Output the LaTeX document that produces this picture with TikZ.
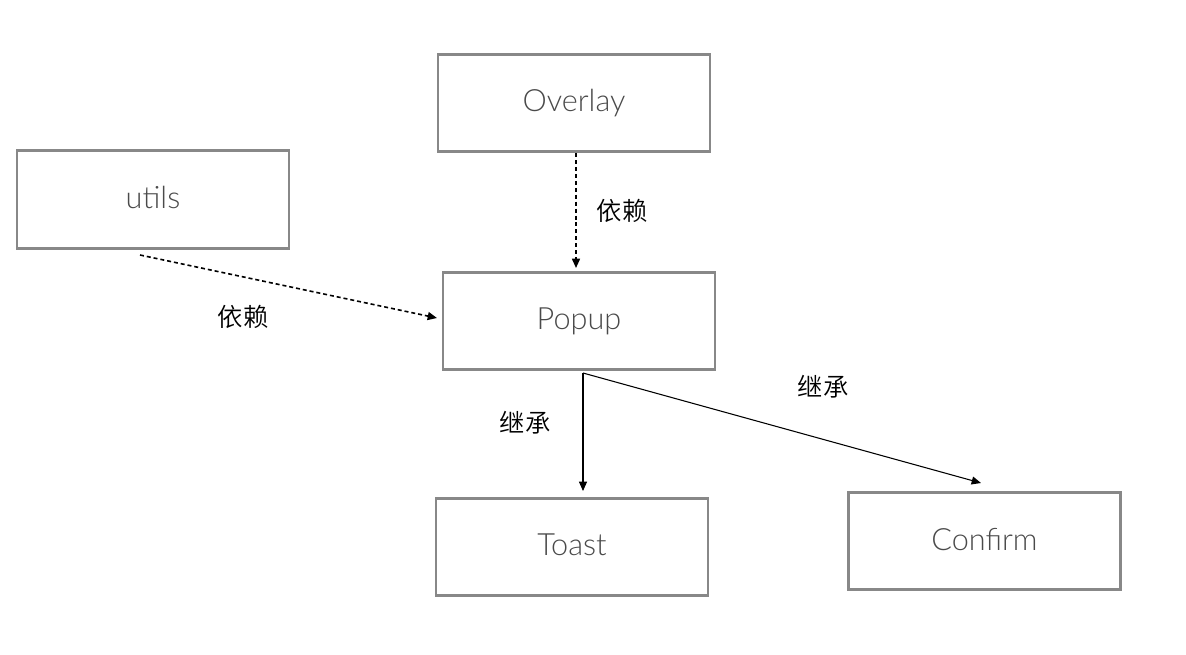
\documentclass[tikz,border=0pt]{standalone}
\usepackage{fontspec}
\setmainfont{Lato}[UprightFont=* Light]
\newfontfamily\cjk{Noto Sans CJK SC}[UprightFont=* DemiLight]
\usetikzlibrary{arrows.meta}
\definecolor{boxgray}{HTML}{888888}
\definecolor{txtgray}{HTML}{4A4A4A}
\tikzset{
  comp/.style={draw=boxgray, line width=2.2pt, minimum width=204pt, minimum height=73pt,
    text=txtgray, font=\fontsize{23}{26}\selectfont, inner sep=0pt},
  dep/.style={line width=1.2pt, dash pattern=on 3pt off 2.2pt, -{Triangle[length=7pt,width=6pt]}},
  inh/.style={line width=0.8pt, -{Triangle[length=7pt,width=6pt]}},
  lbl/.style={font=\cjk\fontsize{19}{21}\selectfont, inner sep=0pt}
}
\begin{document}
\begin{tikzpicture}[x=0.75pt,y=-0.75pt]
\useasboundingbox (0,0) rectangle (1186,654);
\node[comp] (overlay) at (574,103) {\raisebox{3pt}{Overlay}};
\node[comp] (utils) at (153,199.5) {\raisebox{3pt}{utils}};
\node[comp] (popup) at (579,321) {\raisebox{3pt}{Popup}};
\node[comp] (toast) at (572,547) {\raisebox{3pt}{Toast}};
\node[comp] (confirm) at (984.5,541) {\raisebox{3pt}{Confirm}};
\coordinate (utilsout) at (140,255);
\coordinate (popupout) at (583,373);
\coordinate (toastin) at (583,491);
\coordinate (confirmin) at (981,483);
\coordinate (popupin) at (576,268);
\coordinate (popupleft) at (437,318);
\draw[dep] (overlay.south -| popupin) -- (popupin);
\draw[dep] (utilsout) -- (popupleft);
\draw[inh] (popupout) -- (toastin);
\draw[inh] (popupout) -- (confirmin);
\node[lbl] (l1) at (622,211) {依赖};
\node[lbl] (l2) at (243,317) {依赖};
\node[lbl] (l3) at (525,423) {继承};
\node[lbl] (l4) at (823,387) {继承};
\end{tikzpicture}
\end{document}
